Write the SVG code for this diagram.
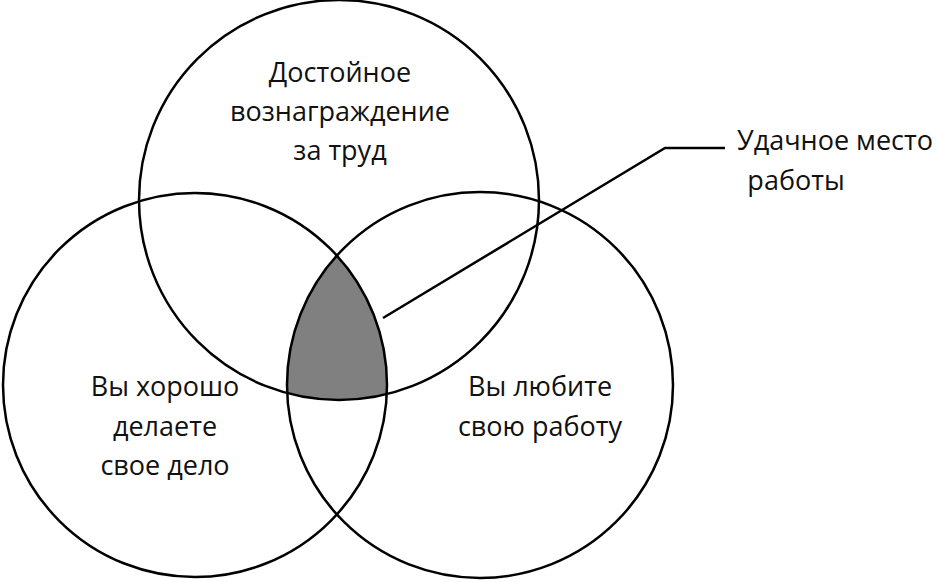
<svg xmlns="http://www.w3.org/2000/svg" width="937" height="582" viewBox="0 0 937 582">
<style>
.c{fill:none;stroke:#000;stroke-width:2.5}
text{font-family:"Open Sans","Liberation Sans",sans-serif;font-size:27px;fill:#111;text-anchor:middle}
</style>
<defs>
<clipPath id="cl"><circle cx="195" cy="385" r="192"/></clipPath>
<clipPath id="ct" clip-path="url(#cl)"><circle cx="339" cy="200" r="200"/></clipPath>
</defs>
<rect width="937" height="582" fill="#fff"/>
<g id="shade"><circle cx="480" cy="385" r="193" fill="#808080" clip-path="url(#ct)"/></g>
<g id="top"><circle class="c" cx="339" cy="200" r="200"/>
<text x="340" y="82">Достойное</text><text x="340" y="121">вознаграждение</text><text x="340" y="160">за труд</text></g>
<g id="left"><circle class="c" cx="195" cy="385" r="192"/>
<text x="165" y="396">Вы хорошо</text><text x="165" y="436">делаете</text><text x="165" y="475">свое дело</text></g>
<g id="right"><circle class="c" cx="480" cy="385" r="193"/>
<text x="540" y="396">Вы любите</text><text x="540" y="436">свою работу</text></g>
<g id="connectors"><polyline points="383,318 665,148 725,148" fill="none" stroke="#000" stroke-width="2.5"/></g>
<g id="label"><text x="835" y="150">Удачное место</text><text x="796" y="190" style="text-anchor:middle">работы</text></g>
</svg>
